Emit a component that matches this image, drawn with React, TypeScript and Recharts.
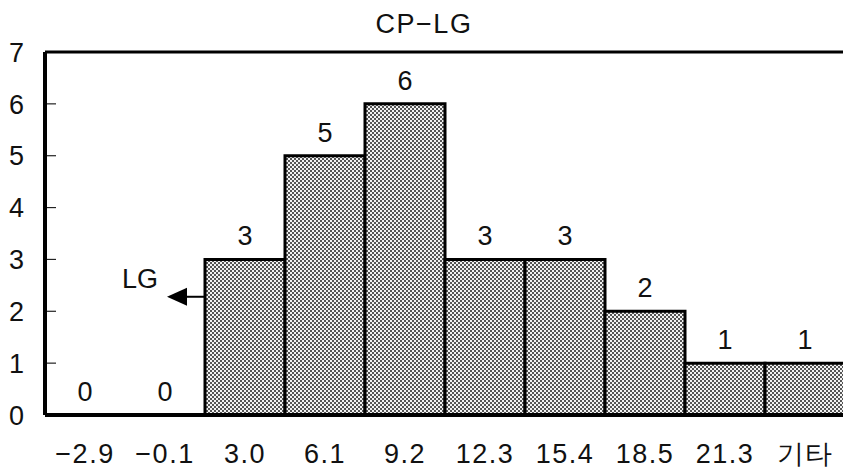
import React from "react";
import {
  ComposedChart,
  Bar,
  Line,
  XAxis,
  YAxis,
  LabelList,
  ReferenceLine,
  ReferenceDot,
} from "recharts";

const categories = ["−2.9", "−0.1", "3.0", "6.1", "9.2", "12.3", "15.4", "18.5", "21.3", "기타"];
const counts = [0, 0, 3, 5, 6, 3, 3, 2, 1, 1];
const yTicks = [0, 1, 2, 3, 4, 5, 6, 7];

// "LG" marker sits in the −0.1 bin, pointing left from the 3.0 bar
const markerBin = "−0.1";
const markerLevel = 2.28;

const FONT = '"Liberation Sans", Arial, Helvetica, sans-serif';

const data = categories.map((label, i) => ({ label, count: counts[i] }));

function YTick({ x, y, payload }: any) {
  const inner = payload.value > 0 && payload.value < 7;
  return (
    <g>
      {inner && <line x1={x + 2} x2={x + 11} y1={y} y2={y} stroke="#222" strokeWidth={1.2} />}
      <text x={x - 21} y={y} dy="0.36em" textAnchor="end" fontSize={27} fontFamily={FONT} fill="#111">
        {payload.value}
      </text>
    </g>
  );
}

function XTick({ x, y, payload }: any) {
  return (
    <text x={x} y={y + 48} textAnchor="middle" fontSize={27} fontFamily={FONT} fill="#111" letterSpacing={1.5}>
      {payload.value}
    </text>
  );
}

function ArrowMark({ cx, cy }: any) {
  if (cx == null || cy == null) return null;
  return (
    <g>
      <text x={cx - 43} y={cy - 9} fontSize={27} fontFamily={FONT} fill="#111">
        LG
      </text>
      <line x1={cx + 20} x2={cx + 40} y1={cy} y2={cy} stroke="#000" strokeWidth={2} />
      <path d={`M ${cx + 2} ${cy} L ${cx + 22} ${cy - 9} L ${cx + 22} ${cy + 9} Z`} fill="#000" />
    </g>
  );
}

export default function App() {
  return (
    <div style={{ position: "absolute", left: 0, top: 0, width: 843, height: 470, overflow: "hidden", background: "#fff" }}>
      <svg width={843} height={470} style={{ position: "absolute", left: 0, top: 0, pointerEvents: "none" }}>
        <defs>
          <pattern id="dots" width={4} height={4} patternUnits="userSpaceOnUse">
            <rect width={4} height={4} fill="#f2f2f2" />
            <rect x={0} y={0} width={2} height={2} fill="#555" />
            <rect x={2} y={2} width={2} height={2} fill="#555" />
          </pattern>
        </defs>
        <text x={424} y={33} textAnchor="middle" fontSize={27} fontFamily={FONT} fill="#111" letterSpacing={1.5}>
          CP−LG
        </text>
      </svg>
      <div style={{ position: "absolute", left: 0, top: 0 }}>
        <ComposedChart
          width={850}
          height={470}
          data={data}
          margin={{ top: 52, right: 5, left: 0, bottom: 0 }}
          barCategoryGap={0}
        >
          <XAxis
            dataKey="label"
            height={55}
            tickSize={0}
            tickMargin={0}
            tick={<XTick />}
            axisLine={{ stroke: "#000", strokeWidth: 4 }}
            interval={0}
          />
          <YAxis
            width={45}
            domain={[0, 7]}
            ticks={yTicks}
            tickSize={0}
            tickMargin={0}
            tick={<YTick />}
            axisLine={{ stroke: "#000", strokeWidth: 4 }}
            interval={0}
          />
          <ReferenceLine y={7} stroke="#000" strokeWidth={3} />
          <Bar dataKey="count" fill="url(#dots)" stroke="#000" strokeWidth={3} isAnimationActive={false} />
          {/* invisible carrier for the count labels, so empty bins get their "0" too */}
          <Line dataKey="count" stroke="none" dot={false} activeDot={false} isAnimationActive={false}>
            <LabelList dataKey="count" position="top" offset={14} fontSize={27} fontFamily={FONT} fill="#111" />
          </Line>
          <ReferenceDot x={markerBin} y={markerLevel} r={0} shape={<ArrowMark />} />
        </ComposedChart>
      </div>
    </div>
  );
}
